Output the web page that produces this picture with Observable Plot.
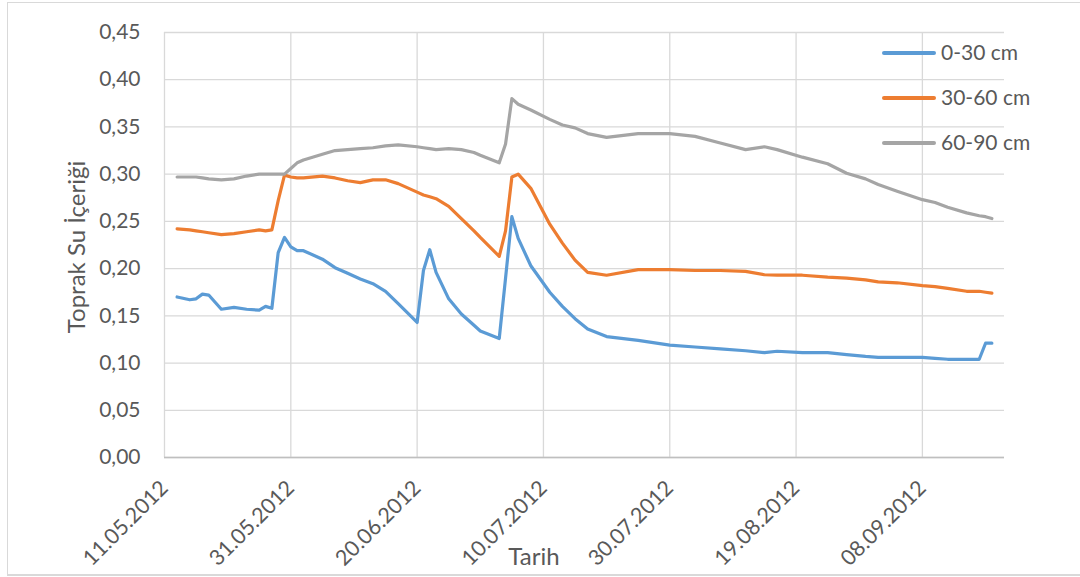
<!DOCTYPE html>
<html>
<head>
<meta charset="utf-8">
<script src="https://cdn.jsdelivr.net/npm/d3@7"></script>
<script src="https://cdn.jsdelivr.net/npm/@observablehq/plot@0.6"></script>
<style>
  html, body { margin: 0; padding: 0; background: #ffffff; }
  #wrap { position: relative; width: 1080px; height: 577px; font-family: Lato, "Open Sans", sans-serif; color: #595959; overflow: hidden; }
  #frame { position: absolute; left: 7px; top: 2px; width: 1090px; height: 574px; border: 1px solid #d9d9d9; border-bottom-width: 2px; box-sizing: border-box; pointer-events: none; }
  #chart { position: absolute; left: 0; top: 0; }
  .leg { position: absolute; left: 882px; height: 22px; font-size: 21px; line-height: 22px; white-space: nowrap; }
  .leg span.sw { position: absolute; left: 0; top: 9px; width: 54px; height: 4px; border-radius: 2px; }
  .leg span.tx { position: absolute; left: 59px; top: -1px; }
  #xlabel { position: absolute; left: 534px; top: 556px; font-size: 24px; line-height: 24px; transform: translate(-50%, -50%); white-space: nowrap; }
  #ylabel { position: absolute; left: 76px; top: 247px; font-size: 24px; line-height: 24px; transform: translate(-50%, -50%) rotate(-90deg); white-space: nowrap; }
</style>
</head>
<body>
<div id="wrap">
  <div id="frame"></div>
  <div id="chart"></div>
  <div id="xlabel"></div>
  <div id="ylabel"></div>
</div>
<script>
// ---- data ----
const series = ["0-30 cm", "30-60 cm", "60-90 cm"];
const seriesColors = ["#5b9bd5", "#ed7d31", "#a5a5a5"];

const dates = [
  "2012-05-13","2012-05-15","2012-05-16","2012-05-17","2012-05-18","2012-05-20","2012-05-22","2012-05-24","2012-05-26","2012-05-27",
  "2012-05-28","2012-05-29","2012-05-30","2012-05-31","2012-06-01","2012-06-02","2012-06-05","2012-06-07","2012-06-09","2012-06-11",
  "2012-06-13","2012-06-15","2012-06-17","2012-06-20","2012-06-21","2012-06-22","2012-06-23","2012-06-25","2012-06-27","2012-06-29",
  "2012-06-30","2012-07-03","2012-07-04","2012-07-05","2012-07-06","2012-07-08","2012-07-11","2012-07-13","2012-07-15","2012-07-17",
  "2012-07-20","2012-07-25","2012-07-30","2012-08-03","2012-08-07","2012-08-11","2012-08-14","2012-08-16","2012-08-20","2012-08-24",
  "2012-08-27","2012-08-30","2012-09-01","2012-09-04","2012-09-08","2012-09-10","2012-09-12","2012-09-15","2012-09-17","2012-09-18",
  "2012-09-19"
];

const depth0_30 = [
  0.170,0.167,0.168,0.173,0.172,0.157,0.159,0.157,0.156,0.160,
  0.158,0.217,0.233,0.223,0.219,0.219,0.210,0.201,0.195,0.189,
  0.184,0.176,0.163,0.143,0.198,0.220,0.196,0.168,0.152,0.140,
  0.134,0.126,0.190,0.255,0.232,0.203,0.175,0.160,0.147,0.136,
  0.128,0.124,0.119,0.117,0.115,0.113,0.111,0.1125,0.111,0.111,
  0.109,0.107,0.106,0.106,0.106,0.105,0.104,0.104,0.104,0.121,
  0.121
];
const depth30_60 = [
  0.242,0.241,0.240,0.239,0.238,0.236,0.237,0.239,0.241,0.240,
  0.241,0.272,0.299,0.297,0.296,0.296,0.298,0.296,0.293,0.291,
  0.294,0.294,0.290,0.281,0.278,0.276,0.274,0.266,0.253,0.240,
  0.233,0.213,0.240,0.297,0.300,0.285,0.247,0.227,0.209,0.196,
  0.193,0.199,0.199,0.198,0.198,0.197,0.1935,0.193,0.193,0.191,
  0.190,0.188,0.186,0.185,0.182,0.181,0.179,0.176,0.176,0.175,
  0.174
];
const depth60_90 = [
  0.297,0.297,0.297,0.296,0.295,0.294,0.295,0.298,0.300,0.300,
  0.300,0.300,0.300,0.306,0.312,0.315,0.321,0.325,0.326,0.327,
  0.328,0.330,0.331,0.329,0.328,0.327,0.326,0.327,0.326,0.323,
  0.320,0.312,0.332,0.380,0.374,0.368,0.358,0.352,0.349,0.343,
  0.339,0.343,0.343,0.340,0.333,0.326,0.329,0.326,0.318,0.311,
  0.301,0.295,0.289,0.282,0.273,0.270,0.265,0.259,0.256,0.255,
  0.253
];

const xTicks = ["2012-05-11","2012-05-31","2012-06-20","2012-07-10","2012-07-30","2012-08-19","2012-09-08"];
const xDomain = ["2012-05-11","2012-09-21"];
const yTicks = [0, 0.05, 0.10, 0.15, 0.20, 0.25, 0.30, 0.35, 0.40, 0.45];
const yLabel = "Toprak Su İçeriği";
const xLabel = "Tarih";

// ---- build table ----
const valuesBySeries = [depth0_30, depth30_60, depth60_90];
const rows = [];
series.forEach((s, k) => {
  dates.forEach((d, i) => rows.push({ date: new Date(d), depth: s, value: valuesBySeries[k][i] }));
});
const xTickDates = xTicks.map(d => new Date(d));
const fmtDate = d3.utcFormat("%d.%m.%Y");
const fmtNum = d => d.toFixed(2).replace(".", ",");

const chart = Plot.plot({
  width: 1080,
  height: 577,
  marginLeft: 164,
  marginRight: 76,
  marginTop: 32,
  marginBottom: 120,
  style: { fontFamily: "Lato, 'Open Sans', sans-serif", fontSize: "21px", color: "#595959", background: "transparent", overflow: "visible" },
  x: { type: "utc", domain: xDomain.map(d => new Date(d)) },
  y: { domain: [0, 0.45] },
  color: { domain: series, range: seriesColors },
  marks: [
    Plot.gridY(yTicks, { stroke: "#d9d9d9", strokeOpacity: 1, strokeWidth: 1.3 }),
    Plot.gridX(xTickDates, { stroke: "#d9d9d9", strokeOpacity: 1, strokeWidth: 1.3 }),
    Plot.ruleY([0], { stroke: "#bfbfbf", strokeWidth: 1.6 }),
    Plot.axisY(yTicks, { tickSize: 0, tickPadding: 24, tickFormat: fmtNum, fontSize: 21, label: null }),
    Plot.axisX(xTickDates, { tickSize: 0, tickPadding: 27, tickRotate: -45, tickFormat: fmtDate, fontSize: 21.5, label: null }),
    Plot.lineY(rows, { x: "date", y: "value", z: "depth", stroke: "depth", strokeWidth: 3.2, strokeLinejoin: "round" })
  ]
});
document.getElementById("chart").appendChild(chart);
document.getElementById("xlabel").textContent = xLabel;
document.getElementById("ylabel").textContent = yLabel;

// ---- legend (inside plot area, top right) ----
const wrap = document.getElementById("wrap");
series.forEach((s, k) => {
  const el = document.createElement("div");
  el.className = "leg";
  el.style.top = (42 + k * 45) + "px";
  el.innerHTML = `<span class="sw" style="background:${seriesColors[k]}"></span><span class="tx">${s}</span>`;
  wrap.appendChild(el);
});
</script>
</body>
</html>
